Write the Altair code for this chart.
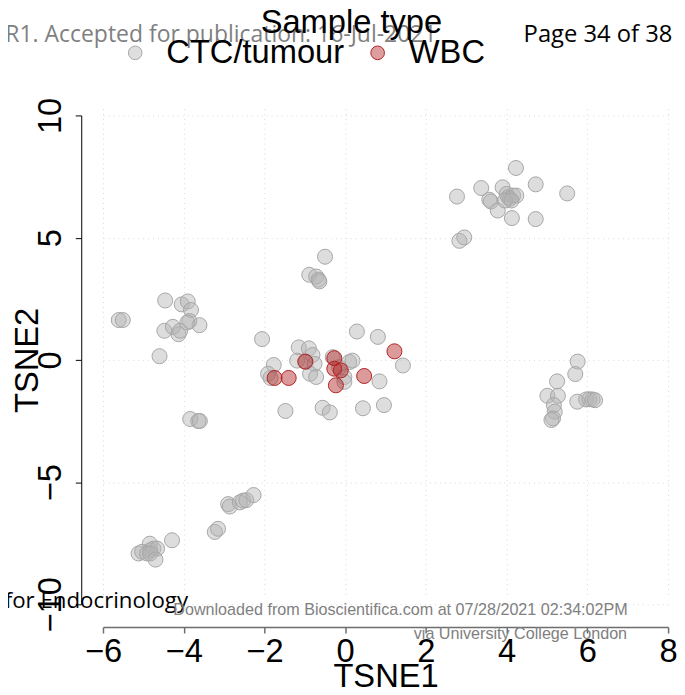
import altair as alt
import pandas as pd

# ---- data ----
ctc_x = [2.77, 3.37, 3.90, 4.23, 4.72, 5.50, 3.57, 3.61, 3.78, 4.00, 4.04, 4.08, 4.16, 4.24, 3.96, 4.12, 4.13, 4.72, 2.83, 2.95,
         5.76, 5.70, 5.25, 5.01, 5.27, 5.17, 5.19, 5.15, 5.11, 5.75, 5.97, 6.05, 6.13, 6.19,
         -5.61, -5.51, -4.46, -4.05, -3.90, -3.82, -3.86, -3.61, -4.48, -4.27, -4.13, -4.09, -3.91, -4.60, -3.84, -3.64, -3.60,
         -5.12, -5.03, -4.84, -4.83, -4.75, -4.66, -4.91, -4.83, -4.70, -4.29, -3.23, -3.15, -2.90, -2.86, -2.61, -2.53, -2.45, -2.27,
         -0.50, -0.89, -0.72, -0.66, -0.64,
         -2.06, -1.77, -1.91, -1.85, -1.48, -1.15, -0.90, -1.19, -0.97, -0.81, -0.76, -0.87, -0.72, -0.31, -0.15, -0.02, 0.10, 0.18,
         -0.02, -0.56, -0.38, 0.29, 0.81, 1.43, 0.85, 0.44, 0.96]
ctc_y = [6.68, 7.03, 7.06, 7.85, 7.18, 6.81, 6.55, 6.48, 6.11, 6.79, 6.65, 6.59, 6.72, 6.72, 6.52, 6.52, 5.80, 5.76, 4.87, 5.01,
         -0.07, -0.58, -0.88, -1.47, -1.47, -1.85, -2.12, -2.39, -2.46, -1.71, -1.62, -1.61, -1.62, -1.65,
         1.63, 1.63, 2.43, 2.27, 2.39, 2.04, 1.59, 1.42, 1.19, 1.35, 1.05, 1.19, 1.53, 0.15, -2.42, -2.50, -2.50,
         -7.92, -7.85, -7.52, -7.79, -7.72, -7.72, -7.92, -7.92, -8.17, -7.38, -7.04, -6.91, -5.90, -6.00, -5.83, -5.76, -5.74, -5.53,
         4.22, 3.48, 3.41, 3.28, 3.21,
         0.85, -0.21, -0.57, -0.74, -2.09, 0.51, 0.47, -0.03, -0.09, 0.20, -0.16, -0.57, -0.70, 0.11, -0.30, -0.70, -0.09, -0.03,
         -0.90, -1.96, -2.15, 1.16, 0.94, -0.23, -0.88, -1.98, -1.85]
wbc_x = [-1.75, -1.40, -0.99, -0.27, -0.27, -0.11, -0.23, 0.47, 1.22]
wbc_y = [-0.74, -0.74, -0.07, 0.07, -0.36, -0.43, -1.04, -0.66, 0.35]

sample_types = ["CTC/tumour", "WBC"]
fill_colors = ["#b4b4b4", "#b22222"]          # translucent fill of the points
legend_fill_colors = ["#dedede", "#dc9e9e"]   # how a single point looks on white
stroke_colors = ["#a6a6a6", "#b22222"]
x_ticks = [-6, -4, -2, 0, 2, 4, 6, 8]
y_ticks = [-10, -5, 0, 5, 10]

df = pd.DataFrame({
    "TSNE1": ctc_x + wbc_x,
    "TSNE2": ctc_y + wbc_y,
    "Sample type": [sample_types[0]] * len(ctc_x) + [sample_types[1]] * len(wbc_x),
})

FONT = "Liberation Sans"
PDF_FONT = "Open Sans"
W, H = 592, 537

x_enc = alt.X("TSNE1:Q",
              scale=alt.Scale(domain=[-6, 8], range=[12, 583], nice=False, zero=False),
              axis=alt.Axis(values=x_ticks, title="TSNE1", offset=5, tickSize=6,
                            domainColor="#6e6e6e", tickColor="#6e6e6e", domainWidth=1.5, tickWidth=1.5,
                            labelFont=FONT, labelFontSize=33, labelColor="black", labelPadding=3,
                            labelFlush=False, labelOverlap=False,
                            titleFont=FONT, titleFontSize=33, titleFontWeight="normal", titleColor="black",
                            titlePadding=-8,
                            grid=True, gridColor="#d9d9d9", gridDash=[1, 4], gridWidth=1))
y_enc = alt.Y("TSNE2:Q",
              scale=alt.Scale(domain=[-10, 10], range=[519, 25], nice=False, zero=False),
              axis=alt.Axis(values=y_ticks, title="TSNE2", offset=10, tickSize=6,
                            domainColor="black", tickColor="black", domainWidth=1, tickWidth=1,
                            labelFont=FONT, labelFontSize=33, labelColor="black", labelAngle=270,
                            labelPadding=8, labelFlush=False, labelOverlap=False,
                            titleFont=FONT, titleFontSize=33, titleFontWeight="normal", titleColor="black",
                            titlePadding=-10,
                            grid=True, gridColor="#d9d9d9", gridDash=[1, 4], gridWidth=1))

points = alt.Chart(df).mark_point(
    shape="circle", filled=True, size=230, strokeWidth=1, fillOpacity=0.45, opacity=1
).encode(
    x=x_enc,
    y=y_enc,
    fill=alt.Fill("Sample type:N", scale=alt.Scale(domain=sample_types, range=fill_colors), legend=None),
    stroke=alt.Stroke("Sample type:N", scale=alt.Scale(domain=sample_types, range=stroke_colors), legend=None),
)

legend = alt.Legend(title=None, orient="none", legendX=28, legendY=-55,
                    direction="horizontal", labelFont=FONT, labelFontSize=33,
                    labelColor="black", labelLimit=400, labelOffset=15,
                    columnPadding=17, symbolSize=190, symbolStrokeWidth=1, symbolOpacity=1)

# invisible layer that only carries the legend (symbols drawn as a single point looks)
legend_layer = alt.Chart(df).mark_point(
    shape="circle", filled=True, size=0, strokeWidth=0
).encode(
    x="TSNE1:Q",
    y="TSNE2:Q",
    fill=alt.Fill("Sample type:N", scale=alt.Scale(domain=sample_types, range=legend_fill_colors), legend=legend),
    stroke=alt.Stroke("Sample type:N", scale=alt.Scale(domain=sample_types, range=stroke_colors), legend=legend),
)


def label(text, x, y, font, size, color, align="left"):
    return alt.Chart(pd.DataFrame({"t": [text]})).mark_text(
        font=font, fontSize=size, color=color, align=align, baseline="alphabetic"
    ).encode(text="t:N", x=alt.value(x), y=alt.value(y))


texts = [
    label("R1. Accepted for publication: 16-Jul-2021", 349, -49, PDF_FONT, 23.2, "#7f7f7f", "right"),
    label("Page 34 of 38", 437, -49, PDF_FONT, 24, "black", "left"),
    label("for Endocrinology", 98, 523, PDF_FONT, 22.5, "black", "right"),
    label("Downloaded from Bioscientifica.com at 07/28/2021 02:34:02PM", 83, 530, FONT, 16.3, "#808080", "left"),
    label("via University College London", 326, 554, FONT, 16.3, "#808080", "left"),
    label("Sample type", 263, -58, FONT, 33, "black", "center"),
]

chart = alt.layer(*texts[:5], points, legend_layer, texts[5]).resolve_scale(
    fill="independent", stroke="independent"
).properties(
    width=W, height=H,
    autosize=alt.AutoSizeParams(type="none"),
    padding={"left": 84, "top": 80, "right": 0, "bottom": 62},
    background="white",
).configure_view(stroke=None)

chart.save("out.html", embed_options={"renderer": "svg", "actions": False})
